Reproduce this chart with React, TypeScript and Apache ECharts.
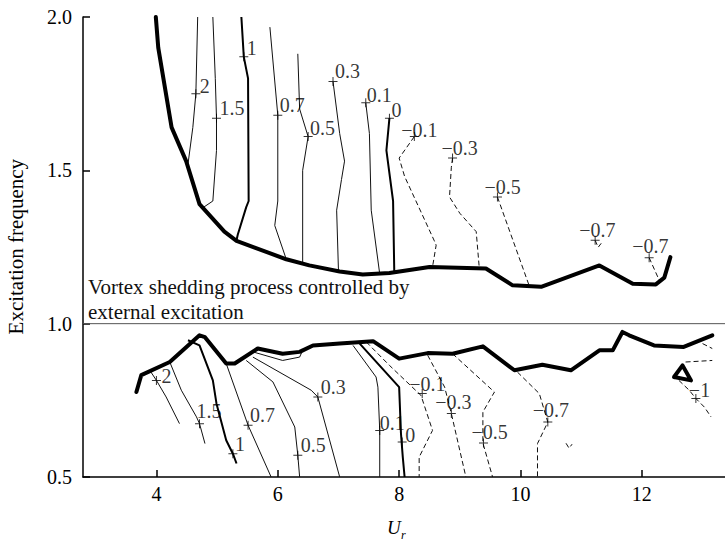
import React, { useEffect, useRef } from 'react';
import * as echarts from 'echarts';

// ---------- axes ----------
const xMin = 2.79;
const xMax = 13.37;
const xTicks = [4, 6, 8, 10, 12];
const yMin = 0.5;
const yMax = 2.0;
const yStep = 0.5;
const controlLevel = 1.0;

// ---------- thick boundaries ----------
const upperBoundary = [[3.99, 2.0], [4.03, 1.9], [4.25, 1.64], [4.49, 1.53], [4.71, 1.39], [5.12, 1.3], [5.32, 1.27], [6.14, 1.21], [6.52, 1.19], [7.02, 1.17], [7.4, 1.16], [7.84, 1.165], [8.5, 1.185], [9.43, 1.18], [9.87, 1.125], [10.34, 1.12], [11.3, 1.19], [11.85, 1.13], [12.23, 1.128], [12.37, 1.15], [12.47, 1.217]];
const lowerBoundary = [[3.67, 0.777], [3.75, 0.832], [4.22, 0.875], [4.71, 0.962], [4.8, 0.956], [5.15, 0.87], [5.29, 0.87], [5.67, 0.919], [6.08, 0.902], [6.36, 0.908], [6.58, 0.929], [7.02, 0.935], [7.57, 0.943], [8.0, 0.886], [8.47, 0.904], [8.88, 0.902], [9.38, 0.926], [9.9, 0.848], [10.36, 0.866], [10.83, 0.848], [11.3, 0.913], [11.52, 0.913], [11.68, 0.973], [11.79, 0.962], [12.2, 0.929], [12.69, 0.924], [13.16, 0.962]];
const lowerIsland = [[12.53, 0.826], [12.67, 0.864], [12.81, 0.815], [12.53, 0.826]];

// ---------- upper contours ----------
const up2 = [[4.68, 2.0], [4.65, 1.75], [4.6, 1.64], [4.52, 1.52]];
const up15 = [[4.93, 2.0], [4.97, 1.8], [4.99, 1.67], [4.99, 1.565], [4.93, 1.4], [4.78, 1.38]];
const up1 = [[5.4, 2.0], [5.44, 1.87], [5.51, 1.8], [5.52, 1.4], [5.48, 1.38], [5.34, 1.29], [5.32, 1.272]];
const up07 = [[5.87, 1.967], [6.0, 1.68], [6.0, 1.4], [5.95, 1.32], [6.14, 1.21]];
const up05 = [[6.33, 1.88], [6.36, 1.7], [6.5, 1.61], [6.41, 1.5], [6.41, 1.198]];
const up03 = [[6.91, 1.79], [7.02, 1.62], [7.1, 1.53], [7.05, 1.47], [6.97, 1.37], [7.0, 1.173]];
const up01 = [[7.45, 1.72], [7.51, 1.62], [7.54, 1.37], [7.68, 1.162]];
const up0 = [[7.84, 1.67], [7.79, 1.565], [7.9, 1.4], [7.92, 1.165]];
const upM01 = [[8.25, 1.61], [8.0, 1.54], [8.09, 1.48], [8.58, 1.27], [8.61, 1.256], [8.55, 1.185]];
const upM03 = [[8.88, 1.54], [8.86, 1.51], [8.83, 1.413], [9.0, 1.36], [9.27, 1.3], [9.32, 1.183]];
const upM05 = [[9.62, 1.413], [10.15, 1.12]];
const upM07a = [[11.23, 1.272], [11.28, 1.249], [11.33, 1.262]];
const upM07b = [[12.12, 1.215], [12.29, 1.14]];

// ---------- lower contours ----------
const lo2 = [[3.9, 0.845], [4.0, 0.815], [4.16, 0.761], [4.38, 0.674]];
const lo15 = [[4.22, 0.875], [4.41, 0.783], [4.66, 0.696], [4.71, 0.674], [4.8, 0.609]];
const lo1 = [[4.52, 0.946], [4.71, 0.929], [4.93, 0.815], [4.99, 0.739], [5.15, 0.62], [5.26, 0.576], [5.32, 0.544]];
const lo07 = [[5.15, 0.87], [5.51, 0.669], [5.89, 0.5]];
const lo05 = [[5.48, 0.88], [5.92, 0.81], [6.28, 0.663], [6.33, 0.571], [6.36, 0.5]];
const lo03 = [[5.59, 0.891], [6.55, 0.783], [6.66, 0.761], [7.02, 0.5]];
const loLobe = [[5.59, 0.908], [6.08, 0.88], [6.36, 0.891], [6.41, 0.913]];
const lo01 = [[7.24, 0.929], [7.62, 0.826], [7.65, 0.793], [7.68, 0.652], [7.68, 0.5]];
const lo0 = [[7.35, 0.935], [8.0, 0.793], [8.03, 0.642], [8.06, 0.565], [8.09, 0.5]];
const loM01 = [[7.46, 0.94], [7.84, 0.864], [8.36, 0.766], [8.55, 0.652], [8.33, 0.565], [8.33, 0.5]];
const loM03 = [[8.47, 0.897], [8.75, 0.793], [8.86, 0.707], [9.1, 0.5]];
const loM05 = [[8.88, 0.902], [9.57, 0.777], [9.38, 0.712], [9.38, 0.611], [9.54, 0.5]];
const loM07 = [[9.95, 0.842], [10.31, 0.772], [10.45, 0.679], [10.28, 0.609], [10.28, 0.5]];
const loMark = [[10.75, 0.61], [10.8, 0.594], [10.85, 0.607]];
const loM1 = [[12.61, 0.815], [12.78, 0.783], [12.89, 0.756], [13.03, 0.728], [13.14, 0.696]];
const loM1b = [[12.72, 0.875], [13.16, 0.88]];
const loM1c = [[13.0, 0.935], [13.16, 0.919]];

// ---------- contour labels ----------
const labelTexts = ['2', '1.5', '1', '0.7', '0.5', '0.3', '0.1', '0', '−0.1', '−0.3', '−0.5', '−0.7', '−0.7',
  '2', '1.5', '1', '0.7', '0.5', '0.3', '0.1', '0', '−0.1', '−0.3', '−0.5', '−0.7', '−1'];
const labelPoints = [[4.65, 1.75], [4.99, 1.67], [5.44, 1.87], [6.0, 1.68], [6.5, 1.61], [6.91, 1.79], [7.45, 1.72], [7.84, 1.67], [8.25, 1.61], [8.88, 1.54], [9.62, 1.413], [11.23, 1.272], [12.12, 1.215],
  [4.0, 0.815], [4.71, 0.674], [5.26, 0.576], [5.51, 0.669], [6.33, 0.571], [6.66, 0.761], [7.68, 0.652], [8.05, 0.614], [8.38, 0.772], [8.86, 0.707], [9.39, 0.611], [10.45, 0.679], [12.89, 0.756]];
// pixel offsets of the text (left edge, vertical centre) from its tick mark
const labelOffsets = [[4, -8], [3, -10], [3, -9], [2, -10], [2, -9], [2, -10], [1, -8], [2, -8], [-13, -7], [-11, -10], [-13, -10], [-16, -10], [-17, -12],
  [5, -4], [-3, -13], [2, -10], [2, -10], [3, -10], [3, -10], [0, -7], [3, -7], [-13, -10], [-16, -12], [-12, -11], [-15, -12], [-7, -8]];

const FONT = '"Liberation Serif", "Times New Roman", serif';

type Kind = 'thick' | 'medium' | 'thin' | 'dashed';
const lineKinds: [number[][], Kind][] = [
  [upperBoundary, 'thick'], [lowerBoundary, 'thick'], [lowerIsland, 'thick'],
  [up2, 'thin'], [up15, 'thin'], [up1, 'medium'], [up07, 'thin'], [up05, 'thin'], [up03, 'thin'], [up01, 'thin'], [up0, 'medium'],
  [upM01, 'dashed'], [upM03, 'dashed'], [upM05, 'dashed'], [upM07a, 'dashed'], [upM07b, 'dashed'],
  [lo2, 'thin'], [lo15, 'thin'], [lo1, 'medium'], [lo07, 'thin'], [lo05, 'thin'], [lo03, 'thin'], [loLobe, 'thin'], [lo01, 'thin'], [lo0, 'medium'],
  [loM01, 'dashed'], [loM03, 'dashed'], [loM05, 'dashed'], [loM07, 'dashed'], [loMark, 'dashed'], [loM1, 'dashed'], [loM1b, 'dashed'], [loM1c, 'dashed'],
];

function styleFor(kind: Kind) {
  if (kind === 'thick') return { color: '#000', width: 4, type: 'solid' as any, join: 'round' as any, cap: 'round' as any };
  if (kind === 'medium') return { color: '#000', width: 2, type: 'solid' as any, join: 'round' as any };
  if (kind === 'thin') return { color: '#111', width: 1, type: 'solid' as any, join: 'round' as any };
  return { color: '#111', width: 1, type: [5, 3] as any, join: 'round' as any };
}

export default function App() {
  const ref = useRef<HTMLDivElement>(null);
  useEffect(() => {
    const chart = echarts.init(ref.current!, null, { renderer: 'svg' });
    const series: any[] = lineKinds.map(([data, kind], i) => ({
      type: 'line',
      name: 'c' + i,
      data,
      symbol: 'none',
      showSymbol: false,
      silent: true,
      lineStyle: styleFor(kind),
      z: kind === 'thick' ? 5 : 3,
    }));
    series.push({
      type: 'line',
      name: 'control',
      data: [[xMin, controlLevel], [xMax, controlLevel]],
      symbol: 'none',
      silent: true,
      lineStyle: { color: '#555', width: 1 },
      z: 2,
    });
    series.push({
      type: 'scatter',
      name: 'labels',
      symbol: 'path://M4,0 h1 v9 h-1 Z M0,4 h9 v1 h-9 Z',
      symbolSize: 9,
      itemStyle: { color: '#000' },
      silent: true,
      z: 6,
      data: labelPoints.map((p, i) => ({
        value: p,
        label: {
          show: true,
          formatter: labelTexts[i],
          position: 'right',
          distance: 0,
          offset: [labelOffsets[i][0] - 4.5, labelOffsets[i][1]],
          fontFamily: FONT,
          fontSize: 20,
          color: '#000',
        },
      })),
    });

    chart.setOption({
      animation: false,
      backgroundColor: '#fff',
      grid: { left: 83, right: 0, top: 17, bottom: 64, containLabel: false, outerBoundsMode: 'none' },
      xAxis: {
        type: 'value',
        min: xMin,
        max: xMax,
        axisLine: { show: true, onZero: false, lineStyle: { color: '#000', width: 1.5 } },
        axisTick: { show: true, inside: true, length: 7, customValues: xTicks, lineStyle: { color: '#000', width: 1.5 } },
        axisLabel: { customValues: xTicks, fontFamily: FONT, fontSize: 20, color: '#000', margin: 7 },
        splitLine: { show: false },
      },
      yAxis: {
        type: 'value',
        min: yMin,
        max: yMax,
        interval: yStep,
        axisLine: { show: true, onZero: false, lineStyle: { color: '#000', width: 1.5 } },
        axisTick: { show: true, inside: true, length: 7, lineStyle: { color: '#000', width: 1.5 } },
        axisLabel: { formatter: (v: number) => v.toFixed(1), fontFamily: FONT, fontSize: 20, color: '#000', margin: 11 },
        splitLine: { show: false },
      },
      graphic: [
        {
          type: 'text', x: 15.5, y: 246.7, rotation: Math.PI / 2,
          style: { text: 'Excitation frequency', fontFamily: FONT, fontSize: 21, fill: '#000', align: 'center', verticalAlign: 'middle' },
        },
        {
          type: 'text', x: 387, y: 527,
          style: { text: 'U', fontFamily: FONT, fontStyle: 'italic', fontSize: 19, fill: '#000', align: 'left', verticalAlign: 'middle' },
        },
        {
          type: 'text', x: 401, y: 535,
          style: { text: 'r', fontFamily: FONT, fontStyle: 'italic', fontSize: 12, fill: '#000', align: 'left', verticalAlign: 'middle' },
        },
        {
          type: 'text', x: 88, y: 287,
          style: { text: 'Vortex shedding process controlled by', fontFamily: FONT, fontSize: 21, fill: '#111', align: 'left', verticalAlign: 'middle' },
        },
        {
          type: 'text', x: 88, y: 312,
          style: { text: 'external excitation', fontFamily: FONT, fontSize: 21, fill: '#111', align: 'left', verticalAlign: 'middle' },
        },
      ],
      series,
    });
    return () => chart.dispose();
  }, []);
  return <div ref={ref} style={{ position: 'fixed', left: 0, top: 0, width: 725, height: 541, background: '#fff' }} />;
}
